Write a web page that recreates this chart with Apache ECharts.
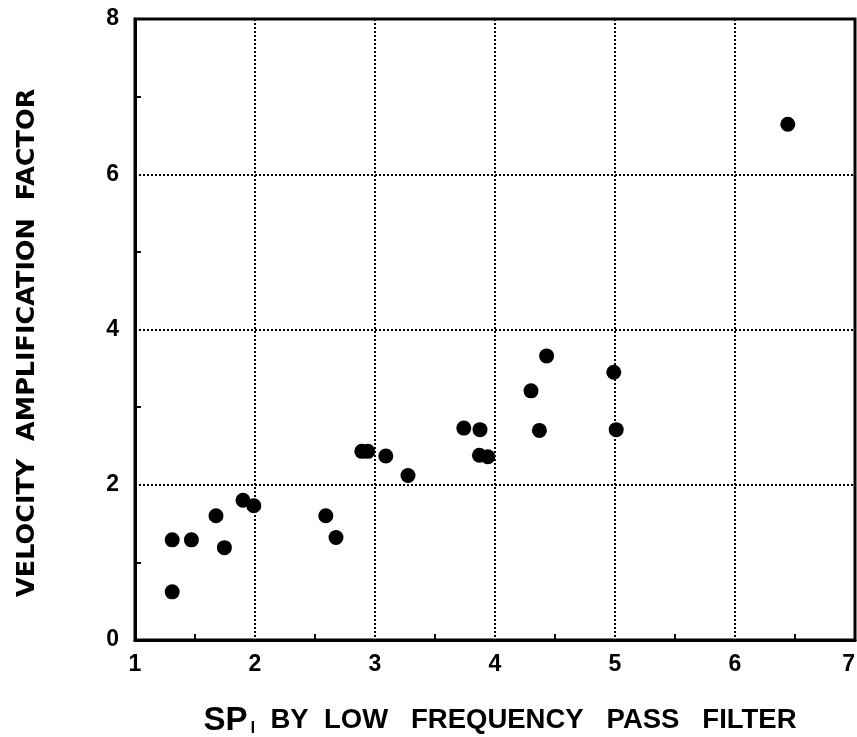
<!DOCTYPE html>
<html>
<head>
<meta charset="utf-8">
<style>html,body{margin:0;padding:0;background:#fff;}#c{width:857px;height:737px;}</style>
<script src="https://cdn.jsdelivr.net/npm/echarts@6/dist/echarts.min.js"></script>
</head>
<body>
<div id="c"></div>
<script>
const spValues = [1.31, 1.47, 1.31, 1.675, 1.745, 1.90, 1.99, 2.59, 2.675, 2.89, 2.94, 3.09, 3.275, 3.74, 3.875, 3.87, 3.94, 4.30, 4.37, 4.43, 4.99, 5.01, 6.44];
const vafValues = [1.29, 1.29, 0.62, 1.60, 1.19, 1.80, 1.73, 1.60, 1.32, 2.43, 2.43, 2.37, 2.12, 2.73, 2.71, 2.38, 2.36, 3.21, 2.70, 3.66, 3.45, 2.71, 6.645];
const xTicks = [1, 2, 3, 4, 5, 6, 7];
const yTicks = [0, 2, 4, 6, 8];

const points = spValues.map((x, i) => [x, vafValues[i]]);
const chart = echarts.init(document.getElementById('c'), null, {renderer: 'canvas'});
const font = 'Liberation Sans';
chart.setOption({
  backgroundColor: '#fff',
  animation: false,
  grid: {left: 135, right: 2, top: 19, bottom: 97, containLabel: false, outerBoundsMode: 'none',
         show: true, borderColor: '#000', borderWidth: 3, backgroundColor: 'transparent'},
  xAxis: {
    type: 'value', min: xTicks[0], max: xTicks[xTicks.length - 1], interval: 1,
    axisLine: {show: true, lineStyle: {color: '#000', width: 3}},
    axisTick: {show: false, inside: true, length: 0},
    minorTick: {show: true, splitNumber: 2, length: 6, lineStyle: {color: '#000', width: 2}},
    splitLine: {show: true, lineStyle: {color: '#000', width: 2, type: [2, 2]}},
    axisLabel: {color: '#000', fontFamily: font, fontWeight: 'bold', fontSize: 23, margin: 13, alignMaxLabel: 'right'},
    name: '{sp|SP}{sub|l}{t|  BY  LOW   FREQUENCY   PASS   FILTER}',
    nameLocation: 'middle', nameGap: 64,
    nameTextStyle: {
      color: '#000',
      rich: {
        sp: {fontFamily: font, fontWeight: 'bold', fontSize: 33, color: '#000', padding: [0, 0, 0, 10]},
        sub: {fontFamily: font, fontWeight: 'bold', fontSize: 17, color: '#000', padding: [16, 0, 0, 3]},
        t: {fontFamily: font, fontWeight: 'bold', fontSize: 27.5, color: '#000'}
      }
    }
  },
  yAxis: {
    type: 'value', min: yTicks[0], max: yTicks[yTicks.length - 1], interval: 2,
    axisLine: {show: true, lineStyle: {color: '#000', width: 3}},
    axisTick: {show: false, inside: true, length: 0},
    minorTick: {show: true, splitNumber: 2, length: 6, lineStyle: {color: '#000', width: 2}},
    splitLine: {show: true, lineStyle: {color: '#000', width: 2, type: [2, 2]}},
    axisLabel: {color: '#000', fontFamily: font, fontWeight: 'bold', fontSize: 23, margin: 16},
    name: 'VELOCITY  AMPLIFICATION  FACTOR   ',
    nameLocation: 'middle', nameGap: 95, nameRotate: 90,
    nameTextStyle: {color: '#000', fontFamily: 'DejaVu Sans', fontWeight: 'bold', fontSize: 25.5}
  },
  series: [{
    type: 'scatter',
    data: points,
    symbol: 'circle',
    symbolSize: 15,
    itemStyle: {color: '#000', opacity: 1},
    emphasis: {disabled: true}
  }]
});
</script>
</body>
</html>
